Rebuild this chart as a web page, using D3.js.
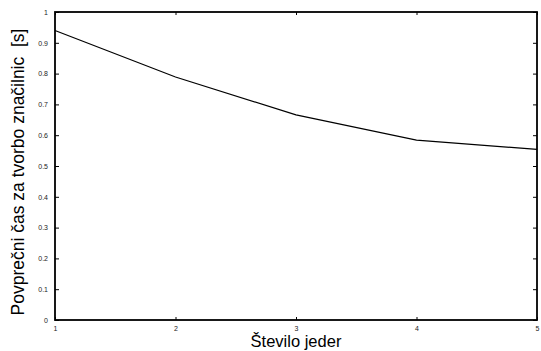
<!DOCTYPE html>
<html>
<head>
<meta charset="utf-8">
<script src="https://d3js.org/d3.v7.min.js"></script>
<style>
  body { margin: 0; background: #fff; }
  svg { display: block; font-family: "Liberation Sans", Arial, sans-serif; }
</style>
</head>
<body>
<div class="chart"></div>
<script>
// data
const cores = [1, 2, 3, 4, 5];
const avgTime = [0.94, 0.789, 0.666, 0.584, 0.554];
const yTicks = [0, 0.1, 0.2, 0.3, 0.4, 0.5, 0.6, 0.7, 0.8, 0.9, 1];

const width = 541, height = 351;
const margin = { top: 12, right: 4, bottom: 31, left: 55 };

const svg = d3.select(".chart").append("svg")
    .attr("width", width)
    .attr("height", height);

const x = d3.scaleLinear().domain([1, 5]).range([margin.left, width - margin.right]);
const y = d3.scaleLinear().domain([0, 1]).range([height - margin.bottom, margin.top]);

// frame
svg.append("rect")
    .attr("x", margin.left)
    .attr("y", margin.top)
    .attr("width", x(5) - x(1))
    .attr("height", y(0) - y(1))
    .attr("fill", "none")
    .attr("stroke", "#000")
    .attr("stroke-width", 1.8);

// y axis ticks (inward, both sides)
const yAxis = d3.axisLeft(y).tickValues(yTicks).tickSizeInner(-4).tickSizeOuter(0)
    .tickFormat(d3.format("~g")).tickPadding(7);
const gy = svg.append("g").attr("transform", `translate(${margin.left},0)`).call(yAxis);
gy.select(".domain").remove();
gy.selectAll("text").attr("font-size", 7).attr("fill", "#222");

const gyr = svg.append("g").attr("transform", `translate(${x(5)},0)`)
    .call(d3.axisRight(y).tickValues(yTicks).tickSizeInner(-4).tickSizeOuter(0).tickFormat(""));
gyr.select(".domain").remove();

// x axis ticks
const xAxis = d3.axisBottom(x).tickValues(cores).tickSizeInner(-3).tickSizeOuter(0)
    .tickFormat(d3.format("d")).tickPadding(6);
const gx = svg.append("g").attr("transform", `translate(0,${y(0)})`).call(xAxis);
gx.select(".domain").remove();
gx.selectAll("text").attr("font-size", 7).attr("fill", "#222");

const gxt = svg.append("g").attr("transform", `translate(0,${y(1)})`)
    .call(d3.axisTop(x).tickValues(cores).tickSizeInner(-3).tickSizeOuter(0).tickFormat(""));
gxt.select(".domain").remove();

// line
const line = d3.line()
    .x((d, i) => x(cores[i]))
    .y(d => y(d));

svg.append("path")
    .datum(avgTime)
    .attr("d", line)
    .attr("fill", "none")
    .attr("stroke", "#000")
    .attr("stroke-width", 1.2);

// axis titles
svg.append("text")
    .attr("x", (x(1) + x(5)) / 2)
    .attr("y", height - 4)
    .attr("text-anchor", "middle")
    .attr("font-size", 16.5)
    .text("Število jeder");

svg.append("text")
    .attr("transform", `translate(24,172) rotate(-90)`)
    .attr("text-anchor", "middle")
    .attr("font-size", 17.5)
    .attr("xml:space", "preserve")
    .style("white-space", "pre")
    .text("Povprečni čas za tvorbo značilnic  [s]");
</script>
</body>
</html>
